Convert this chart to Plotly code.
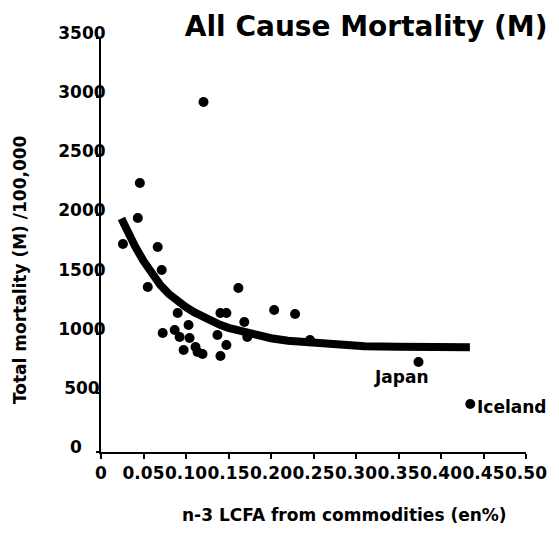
import plotly.graph_objects as go

# Scatter data (country observations)
lcfa = [0.0258, 0.0433, 0.0457, 0.0667, 0.0714, 0.0550, 0.1206, 0.1616, 0.0902, 0.1405,
        0.1475, 0.2037, 0.1030, 0.1686, 0.0726, 0.0867, 0.0925, 0.1042, 0.1370, 0.0972,
        0.1112, 0.1136, 0.1194, 0.1475, 0.1405, 0.1721, 0.2283, 0.2459, 0.3735, 0.4344]
mortality = [1758, 1978, 2274, 1733, 1539, 1395, 2959, 1386, 1175, 1175,
             1175, 1200, 1074, 1099, 1006, 1031, 972, 964, 989, 862,
             888, 845, 828, 905, 812, 972, 1167, 947, 761, 406]

# Fitted curve
fit_x = [0.024, 0.03, 0.04, 0.05, 0.06, 0.07, 0.08, 0.09, 0.10, 0.11, 0.12, 0.13,
         0.14, 0.15, 0.16, 0.18, 0.20, 0.22, 0.25, 0.28, 0.31, 0.35, 0.40, 0.434]
fit_y = [1975, 1880, 1740, 1615, 1500, 1410, 1335, 1275, 1225, 1180, 1140, 1105,
         1075, 1050, 1030, 995, 962, 940, 920, 905, 895, 890, 887, 886]

x_ticks = [0, 0.05, 0.10, 0.15, 0.20, 0.25, 0.30, 0.35, 0.40, 0.45, 0.50]
x_ticklabels = ["0", "0.05", "0.10", "0.15", "0.20", "0.25", "0.30", "0.35", "0.40", "0.45", "0.50"]
y_ticks = [0, 500, 1000, 1500, 2000, 2500, 3000, 3500]
y_ticklabels = ["0", "500", "1000", "1500", "2000", "2500", "3000", "3500"]

labels = [("Japan", 0.3536, 634, "center"), ("Iceland", 0.440, 380, "left")]

FONT = "DejaVu Sans"
NBSP = "\u00a0"


def centred(lbl, width=4):
    # pad shorter labels so they appear centred in the tick-label column
    pad = width - len(lbl)
    return lbl + NBSP * (pad * 3 // 2 if pad > 1 else pad)


fig = go.Figure()
fig.add_trace(go.Scatter(x=fit_x, y=fit_y, mode="lines",
                         line=dict(color="black", width=8), hoverinfo="skip"))
fig.add_trace(go.Scatter(x=lcfa, y=mortality, mode="markers",
                         marker=dict(color="black", size=10, symbol="circle")))

for txt, xv, yv, anc in labels:
    fig.add_annotation(x=xv, y=yv, xref="x", yref="y", text="<b>%s</b>" % txt,
                       showarrow=False, xanchor=anc, yanchor="middle",
                       font=dict(family=FONT, size=17, color="black"))

fig.add_annotation(x=0.574, y=-0.152, xref="paper", yref="paper",
                   text="<b>n-3 LCFA from commodities (en%)</b>", showarrow=False,
                   xanchor="center", yanchor="middle",
                   font=dict(family=FONT, size=17, color="black"))
fig.add_annotation(x=-0.19, y=0.44, xref="paper", yref="paper",
                   text="<b>Total mortality (M) /100,000</b>", showarrow=False,
                   textangle=-90, xanchor="center", yanchor="middle",
                   font=dict(family=FONT, size=17, color="black"))

fig.update_layout(
    width=559, height=541,
    margin=dict(l=101, r=31, t=38, b=89),
    paper_bgcolor="white", plot_bgcolor="white",
    showlegend=False,
    title=dict(text="<b>All Cause Mortality (M)</b>", x=0.655, xref="container",
               xanchor="center", y=1 - 26 / 541, yref="container", yanchor="middle",
               font=dict(family=FONT, size=28, color="black")),
    font=dict(family=FONT, color="black"),
)
fig.update_xaxes(range=[0, 0.5], tickvals=x_ticks, ticktext=x_ticklabels, tickangle=0,
                 showline=True, linecolor="black", linewidth=2, showgrid=False,
                 zeroline=False, ticks="outside", ticklen=5, tickwidth=2, tickcolor="black",
                 tickfont=dict(family=FONT, size=17, color="black", weight="bold"))
fig.update_yaxes(range=[0, 3500], tickvals=y_ticks,
                 ticktext=[centred(t) for t in y_ticklabels],
                 showline=True, linecolor="black", linewidth=2, showgrid=False,
                 zeroline=False, ticks="outside", ticklen=3, tickwidth=2, tickcolor="black",
                 ticklabelstandoff=-13, ticklabelshift=-5,
                 tickfont=dict(family=FONT, size=17, color="black", weight="bold"))

fig.write_html("out.html")
